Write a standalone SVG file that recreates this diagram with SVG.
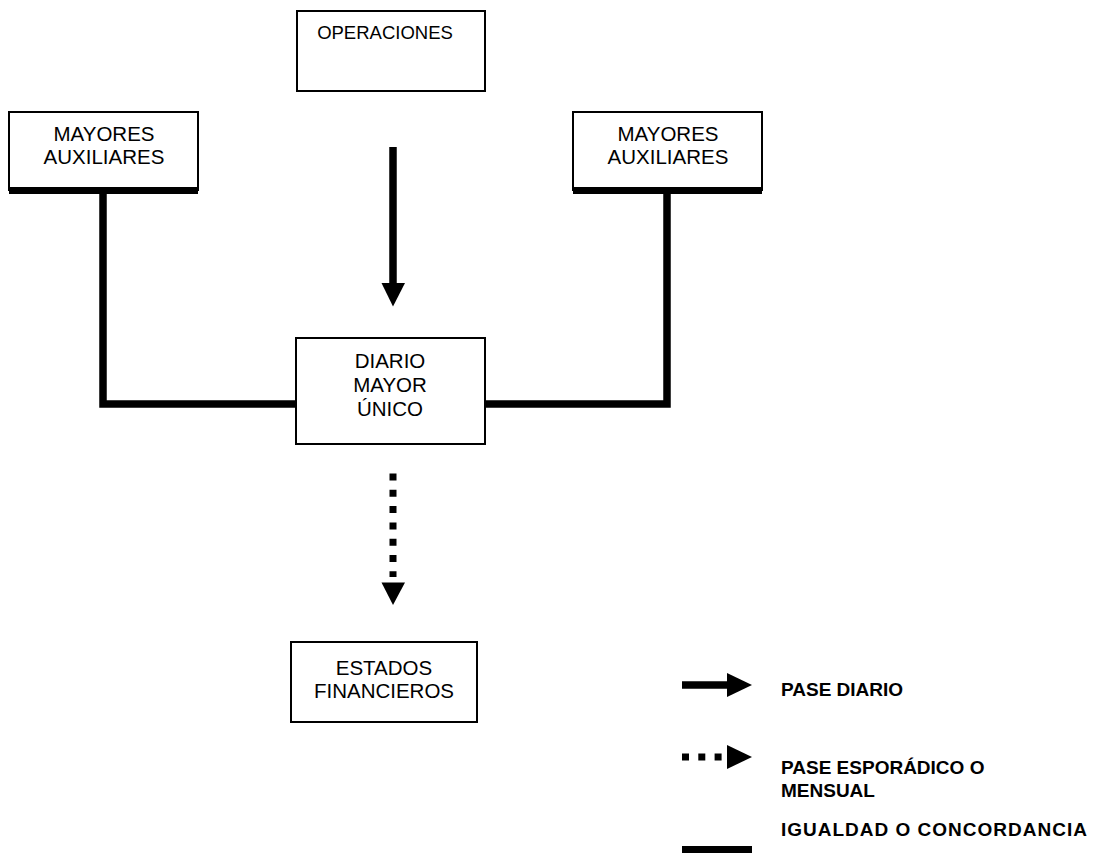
<svg xmlns="http://www.w3.org/2000/svg" width="1109" height="857" viewBox="0 0 1109 857">
  <style>
    .box { fill: #ffffff; stroke: #000000; stroke-width: 2; }
    .lbl { font-family: "Liberation Sans", Arial, sans-serif; font-size: 20.5px; fill: #000000; text-anchor: middle; }
    .key { font-family: "Liberation Sans", Arial, sans-serif; font-size: 19px; font-weight: bold; fill: #000000; }
    .wire { fill: none; stroke: #000000; stroke-width: 7.5; stroke-linejoin: miter; stroke-linecap: butt; }
    .dots { fill: none; stroke: #000000; stroke-width: 7; stroke-dasharray: 7 9.3; }
    .head { fill: #000000; }
  </style>
  <rect width="1109" height="857" fill="#ffffff"/>

  <!-- nodes -->
  <g id="operaciones">
    <rect class="box" x="297" y="11" width="188" height="80"/>
    <text class="lbl" x="385" y="39" style="font-size:18.5px">OPERACIONES</text>
  </g>
  <g id="mayores-izq">
    <rect class="box" x="9" y="112" width="189" height="78"/>
    <rect x="9" y="187" width="189" height="7" fill="#000000"/>
    <text class="lbl" x="104" y="141">MAYORES</text>
    <text class="lbl" x="104" y="164">AUXILIARES</text>
  </g>
  <g id="mayores-der">
    <rect class="box" x="573" y="112" width="189" height="78"/>
    <rect x="573" y="187" width="189" height="7" fill="#000000"/>
    <text class="lbl" x="668" y="141">MAYORES</text>
    <text class="lbl" x="668" y="164">AUXILIARES</text>
  </g>
  <g id="diario-mayor">
    <rect class="box" x="296" y="338" width="189" height="106"/>
    <text class="lbl" x="390" y="368">DIARIO</text>
    <text class="lbl" x="390" y="392">MAYOR</text>
    <text class="lbl" x="390" y="416">ÚNICO</text>
  </g>
  <g id="estados">
    <rect class="box" x="291" y="642" width="186" height="80"/>
    <text class="lbl" x="384" y="675">ESTADOS</text>
    <text class="lbl" x="384" y="698">FINANCIEROS</text>
  </g>

  <!-- connectors -->
  <g id="connectors">
    <polyline class="wire" points="103,194 103,404 296,404"/>
    <polyline class="wire" points="667,194 667,404 485,404"/>
    <line class="wire" x1="393" y1="147" x2="393" y2="284"/>
    <polygon class="head" points="381.5,283 405,283 393,306.5"/>
    <line class="dots" x1="393" y1="473.5" x2="393" y2="577"/>
    <polygon class="head" points="381.5,582.5 405,582.5 393,605"/>
  </g>

  <!-- legend -->
  <g id="legend">
    <line class="wire" x1="682" y1="685" x2="729" y2="685" stroke-width="7"/>
    <polygon class="head" points="727,673 752,685 727,697"/>
    <text class="key" x="781" y="696">PASE DIARIO</text>

    <line class="dots" x1="682" y1="757" x2="722" y2="757" stroke-dasharray="7 9"/>
    <polygon class="head" points="727,745 752,757 727,769"/>
    <text class="key" x="781" y="774">PASE ESPORÁDICO O</text>
    <text class="key" x="781" y="797">MENSUAL</text>

    <rect x="682" y="846" width="70" height="7" fill="#000000"/>
    <text class="key" x="781" y="836" textLength="306" lengthAdjust="spacing">IGUALDAD O CONCORDANCIA</text>
  </g>
</svg>
